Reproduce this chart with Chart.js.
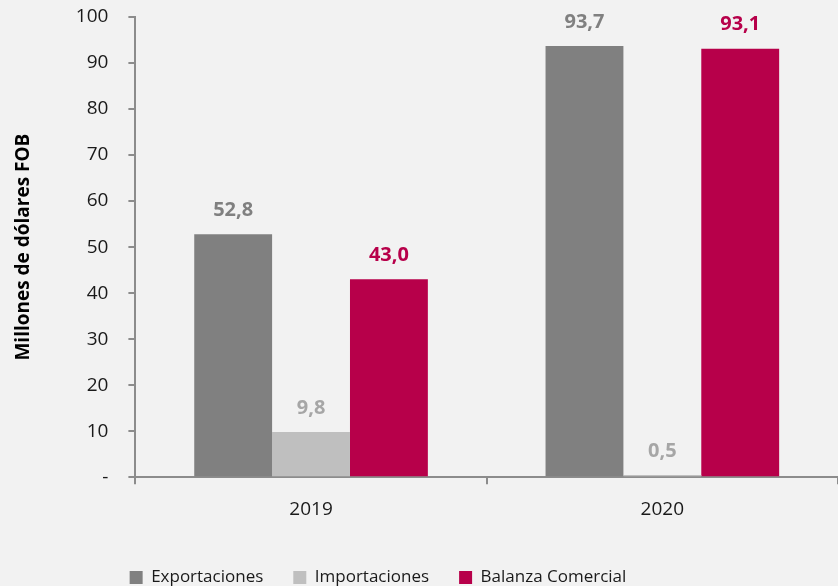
<!DOCTYPE html>
<html>
<head>
<meta charset="utf-8">
<script src="https://cdn.jsdelivr.net/npm/chart.js@4"></script>
<style>
  html, body { margin: 0; padding: 0; background: #f2f2f2; }
  #wrap { width: 838px; height: 586px; }
</style>
</head>
<body>
<div id="wrap"><canvas id="chart" width="838" height="586"></canvas></div>
<script>
// data
const years = ["2019", "2020"];
const exportaciones = [52.8, 93.7];
const importaciones = [9.8, 0.5];
const balanza = [43.0, 93.1];
const yTicks = [0, 10, 20, 30, 40, 50, 60, 70, 80, 90, 100];

const FONT = "'Open Sans', 'Noto Sans', sans-serif";
const fmt = (v) => v.toFixed(1).replace(".", ",");

// draws the value above each bar (no datalabels plugin offline)
const valueLabels = {
  id: "valueLabels",
  afterDatasetsDraw(chart) {
    const ctx = chart.ctx;
    ctx.save();
    ctx.font = "bold 20px " + FONT;
    ctx.textAlign = "center";
    ctx.textBaseline = "middle";
    chart.data.datasets.forEach((ds, i) => {
      chart.getDatasetMeta(i).data.forEach((bar, j) => {
        ctx.fillStyle = ds.labelColor;
        ctx.fillText(fmt(ds.data[j]), bar.x, bar.y - 24);
      });
    });
    ctx.restore();
  },
};

// the legend in the reference sits a bit left of the canvas centre
const legendShift = {
  id: "legendShift",
  afterLayout(chart) {
    if (chart.legend) chart.legend.right -= 92;
  },
};

new Chart(document.getElementById("chart"), {
  type: "bar",
  data: {
    labels: years,
    datasets: [
      { label: "Exportaciones", data: exportaciones, backgroundColor: "#808080", labelColor: "#808080" },
      { label: "Importaciones", data: importaciones, backgroundColor: "#bfbfbf", labelColor: "#a6a6a6" },
      { label: "Balanza Comercial", data: balanza, backgroundColor: "#b7004a", labelColor: "#b7004a" },
    ],
  },
  options: {
    responsive: false,
    animation: false,
    layout: { padding: { top: 17, left: 10, right: 0, bottom: -10 } },
    datasets: { bar: { barPercentage: 1, categoryPercentage: 0.665 } },
    plugins: {
      legend: {
        position: "bottom",
        labels: { font: { family: FONT, size: 17 }, color: "#1a1a1a", boxWidth: 13, boxHeight: 13, padding: 30 },
      },
      tooltip: { enabled: false },
    },
    scales: {
      x: {
        grid: { offset: true, drawOnChartArea: false, tickLength: 7, color: "#8c8c8c", lineWidth: 2 },
        border: { color: "#8c8c8c", width: 2 },
        ticks: { font: { family: FONT, size: 19 }, color: "#1a1a1a", padding: 14 },
        afterFit(scale) { scale.height += 4; },
      },
      y: {
        min: 0,
        max: 100,
        afterBuildTicks(scale) { scale.ticks = yTicks.map((v) => ({ value: v })); },
        afterFit(scale) { scale.paddingTop = 0; },
        grid: { drawOnChartArea: false, tickLength: 7, color: "#8c8c8c", lineWidth: 2 },
        border: { color: "#8c8c8c", width: 2 },
        ticks: {
          font: { family: FONT, size: 19 },
          color: "#1a1a1a",
          padding: 20,
          callback: (v) => (v === 0 ? "-" : v),
        },
        title: {
          display: true,
          text: "Millones de dólares FOB",
          font: { family: FONT, size: 19, weight: "bold" },
          color: "#000000",
          padding: { top: 2, bottom: 21 },
        },
      },
    },
  },
  plugins: [valueLabels, legendShift],
});
</script>
</body>
</html>
